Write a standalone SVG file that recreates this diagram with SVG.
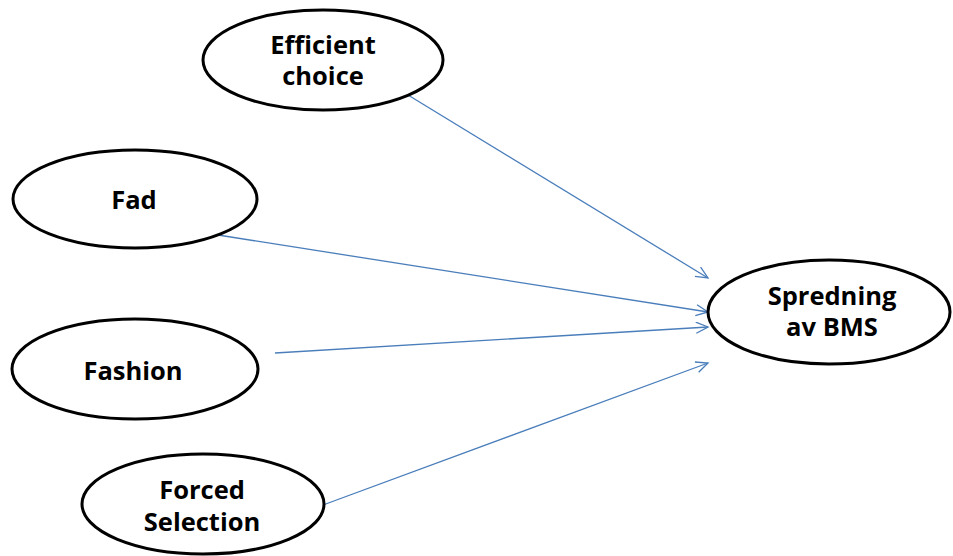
<svg xmlns="http://www.w3.org/2000/svg" width="953" height="556" viewBox="0 0 953 556">
<style>
.node ellipse{fill:#fff;stroke:#000;stroke-width:3}
.node text{font-family:"Open Sans","Liberation Sans",sans-serif;font-weight:bold;font-size:25.5px;fill:#000;text-anchor:middle}
.conn line{stroke:#4a7ebb;stroke-width:1.3;fill:none;marker-end:url(#arr)}
</style>
<defs>
<marker id="arr" markerUnits="userSpaceOnUse" markerWidth="16" markerHeight="14" refX="13" refY="6" orient="auto">
<path d="M1,0.5 L13,6 L1,11.5" fill="none" stroke="#4a7ebb" stroke-width="1.3"/>
</marker>
</defs>
<rect width="953" height="556" fill="#fff"/>
<g class="conn">
<line x1="408" y1="95" x2="708" y2="278"/>
<line x1="218" y1="235" x2="708" y2="312"/>
<line x1="275" y1="353" x2="708" y2="327"/>
<line x1="323" y1="505" x2="708" y2="363"/>
</g>
<g id="efficient" class="node">
<ellipse cx="323" cy="60" rx="120" ry="50"/>
<text x="323" y="54">Efficient</text>
<text x="323" y="85">choice</text>
</g>
<g id="fad" class="node">
<ellipse cx="135" cy="199" rx="122" ry="49"/>
<text x="134" y="209">Fad</text>
</g>
<g id="fashion" class="node">
<ellipse cx="135" cy="369" rx="123" ry="50"/>
<text x="133" y="380">Fashion</text>
</g>
<g id="forced" class="node">
<ellipse cx="203" cy="504" rx="121" ry="50"/>
<text x="202" y="499">Forced</text>
<text x="202" y="531">Selection</text>
</g>
<g id="spredning" class="node">
<ellipse cx="829" cy="312" rx="121" ry="52"/>
<text x="832" y="305">Spredning</text>
<text x="832" y="336">av BMS</text>
</g>
</svg>
